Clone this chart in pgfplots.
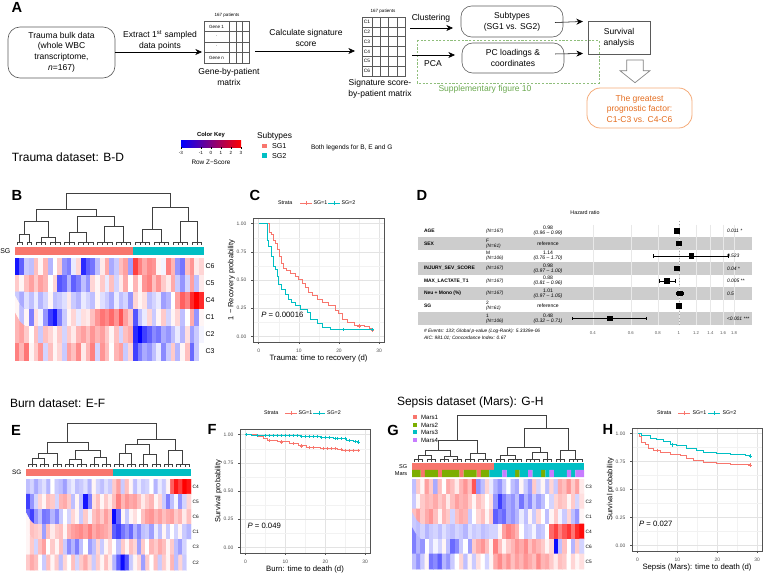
\documentclass[border=0pt]{standalone}
\usepackage{fontspec}
\setmainfont{Liberation Sans}
\usepackage{pgfplots}
\usepackage{pgfplotstable}
\pgfplotsset{compat=1.18}
\usetikzlibrary{arrows.meta}

\definecolor{sgred}{RGB}{248,118,109}
\definecolor{sgcyan}{RGB}{0,191,196}
\definecolor{marsgreen}{RGB}{124,174,0}
\definecolor{marspurple}{RGB}{199,124,255}
\definecolor{suppgreen}{RGB}{106,168,79}
\definecolor{orangetxt}{RGB}{228,108,30}
\definecolor{orangebox}{RGB}{244,170,120}
\definecolor{bandgray}{RGB}{205,205,205}
\definecolor{dgray}{RGB}{90,90,90}

\newcommand{\fs}[2]{\fontsize{#1pt}{#2pt}\selectfont}

% ---------- heatmap values (row by row, 40 columns) ----------
\pgfplotstableread[row sep=\\,header=false]{
-2.2\\-1.5\\-0.5\\-0.6\\0.6\\0.1\\0.7\\-0.7\\0.0\\0.5\\-1.0\\-1.2\\-0.2\\0.4\\-2.0\\-1.5\\-1.3\\-0.6\\0.2\\0.8\\-0.8\\-0.5\\0.6\\0.9\\-0.9\\1.8\\1.2\\0.8\\1.1\\1.0\\0.1\\-0.1\\1.2\\0.7\\-1.0\\-1.3\\0.6\\1.0\\0.2\\0.4\\
0.5\\0.1\\0.6\\0.9\\0.5\\0.9\\0.7\\0.0\\0.4\\-1.6\\-1.4\\-0.7\\-1.5\\-1.2\\-0.6\\-1.0\\0.4\\0.1\\0.5\\-0.2\\0.6\\-0.4\\0.2\\0.8\\0.0\\0.7\\0.1\\1.0\\1.2\\0.6\\1.0\\0.5\\0.2\\0.8\\-0.5\\-1.0\\-0.4\\0.9\\-0.6\\0.2\\
-0.5\\-0.8\\-0.3\\-0.6\\-0.2\\-0.7\\-0.4\\0.1\\-0.6\\-0.5\\-0.3\\0.2\\-0.5\\-0.7\\-0.2\\-0.4\\-0.6\\0.1\\-0.3\\-0.5\\-0.8\\-0.2\\-0.6\\-0.4\\-1.0\\0.4\\0.1\\0.3\\-0.6\\-0.4\\-0.2\\-0.9\\-0.7\\0.0\\0.9\\1.5\\1.2\\2.0\\2.4\\2.0\\
0.1\\-0.6\\0.1\\-1.2\\0.3\\-0.1\\-1.0\\-1.8\\-2.2\\-1.2\\-0.5\\0.1\\0.4\\-0.2\\0.3\\0.2\\0.6\\1.0\\1.3\\1.1\\1.4\\1.0\\1.6\\0.9\\0.5\\-1.6\\-0.6\\-0.2\\0.4\\-0.5\\0.1\\0.5\\-0.4\\0.1\\0.4\\-0.6\\0.0\\0.8\\-1.0\\0.1\\
0.7\\0.9\\0.5\\0.0\\0.6\\-0.5\\0.6\\0.4\\0.1\\0.5\\-0.4\\0.5\\0.2\\0.7\\0.9\\0.6\\1.0\\0.7\\0.9\\0.5\\0.1\\0.6\\-0.4\\0.6\\0.8\\-2.0\\-2.4\\-1.8\\-1.5\\-1.1\\-1.3\\-0.8\\-1.0\\-0.6\\-0.2\\-0.7\\0.3\\-0.9\\-0.5\\-0.1\\
1.2\\0.7\\1.3\\0.1\\0.5\\1.0\\-0.4\\0.6\\0.1\\0.4\\-0.5\\0.9\\0.6\\1.1\\0.2\\0.7\\1.2\\-0.4\\1.0\\0.6\\0.0\\0.7\\0.9\\-0.5\\0.4\\-1.8\\-1.2\\-0.8\\-1.0\\-0.6\\-0.2\\-1.1\\-0.5\\0.5\\-0.7\\0.1\\0.6\\-1.4\\-0.5\\0.0\\
}\heatB

\pgfplotstableread[row sep=\\,header=false]{
-0.6\\-0.4\\-0.8\\-0.5\\-0.3\\-0.7\\0.0\\-0.5\\-0.6\\-0.9\\-0.4\\-0.2\\-0.6\\-0.5\\-0.3\\-0.7\\0.1\\-0.4\\-0.6\\-0.3\\-0.5\\0.5\\0.9\\-0.5\\0.6\\0.1\\-0.6\\-0.2\\-0.5\\-0.4\\0.0\\-0.7\\-0.2\\-0.5\\0.1\\1.5\\2.2\\1.8\\2.5\\2.2\\
-1.8\\-1.0\\-0.4\\0.4\\0.1\\0.6\\0.5\\-0.4\\0.7\\0.8\\0.5\\-0.6\\0.1\\-0.6\\-2.2\\-1.2\\0.3\\0.6\\0.1\\0.5\\0.2\\0.6\\1.2\\0.7\\1.0\\0.8\\0.9\\0.6\\0.2\\0.5\\0.7\\0.1\\0.4\\-0.5\\-1.2\\-0.6\\-0.1\\-1.0\\-0.4\\0.4\\
-1.4\\-1.8\\-1.0\\-0.6\\-1.3\\-1.2\\-0.7\\-1.1\\-0.5\\0.0\\-0.4\\0.4\\0.1\\-0.5\\0.5\\-0.1\\0.6\\0.8\\0.5\\0.9\\0.6\\-2.3\\-1.4\\0.1\\-0.5\\0.1\\0.3\\0.0\\0.6\\0.9\\1.0\\0.7\\0.9\\0.6\\0.8\\0.9\\0.5\\0.7\\0.2\\0.6\\
0.1\\0.6\\0.5\\0.4\\-0.9\\0.6\\0.2\\0.5\\0.6\\0.1\\0.7\\0.9\\1.0\\1.1\\0.9\\1.2\\0.8\\1.0\\0.9\\0.8\\0.6\\-1.5\\-1.8\\-1.3\\-1.0\\-1.4\\-0.7\\-1.1\\-0.6\\-0.5\\-0.9\\-0.2\\-0.6\\0.1\\-0.5\\0.0\\-0.4\\0.1\\-0.5\\-0.7\\
0.1\\0.5\\-0.4\\0.6\\0.9\\0.0\\0.5\\0.1\\0.6\\-0.5\\-1.1\\-0.7\\-1.2\\-0.6\\0.0\\-0.9\\-0.6\\0.4\\-0.5\\0.1\\0.4\\0.0\\-0.6\\0.5\\0.1\\0.6\\0.4\\-0.9\\0.5\\0.0\\0.7\\0.5\\0.8\\0.6\\0.1\\0.5\\-0.6\\-0.9\\-0.4\\0.0\\
0.5\\0.8\\0.6\\0.0\\-0.5\\0.6\\0.1\\0.5\\-0.6\\0.4\\0.0\\0.6\\-0.4\\0.5\\0.8\\0.4\\-0.5\\0.5\\0.1\\0.6\\0.2\\-0.7\\-1.5\\-2.3\\-1.6\\-0.5\\0.1\\0.4\\-0.9\\0.5\\0.0\\0.6\\-0.5\\0.5\\0.1\\0.7\\-0.6\\0.4\\-0.5\\0.0\\
}\heatE

\pgfplotstableread[row sep=\\,header=false]{
-0.6\\0.5\\0.1\\0.9\\0.5\\-0.8\\0.6\\0.0\\0.8\\0.6\\0.2\\0.7\\1.0\\0.6\\1.6\\-1.0\\-0.6\\0.4\\-0.2\\-0.7\\-1.0\\-0.5\\0.0\\-0.6\\-0.8\\0.1\\-0.5\\-0.9\\0.5\\-0.4\\0.1\\-0.6\\0.4\\-0.5\\0.8\\0.6\\1.0\\0.5\\0.9\\0.2\\
-0.5\\0.1\\0.5\\0.7\\0.6\\0.8\\0.5\\0.7\\0.2\\0.6\\0.9\\0.7\\0.8\\0.5\\0.1\\0.6\\0.4\\0.0\\0.3\\-1.0\\-1.8\\-1.2\\-0.8\\-1.0\\-0.6\\-1.3\\-0.7\\-1.1\\-0.5\\-0.9\\-0.6\\0.0\\-0.4\\0.4\\0.6\\0.5\\0.1\\0.5\\-0.4\\0.3\\
0.6\\0.9\\0.5\\0.8\\1.0\\0.6\\0.1\\0.7\\0.5\\-0.4\\0.6\\0.8\\0.7\\-0.5\\0.0\\0.4\\0.6\\0.1\\0.5\\-1.5\\-1.2\\-1.4\\-0.8\\-1.0\\-0.7\\-0.2\\-0.6\\0.1\\-0.5\\0.4\\0.0\\-0.6\\0.1\\0.5\\-0.1\\-0.5\\0.4\\-0.6\\-1.0\\0.1\\
-0.5\\-0.6\\-0.4\\-0.7\\-0.5\\-0.4\\-0.6\\-0.3\\-0.5\\-0.6\\-0.4\\-0.5\\-0.7\\-0.3\\-0.5\\-0.4\\-0.6\\-0.5\\-0.4\\-0.4\\0.1\\0.9\\1.2\\1.0\\0.7\\0.0\\-0.5\\-0.4\\-0.1\\-0.6\\-0.5\\0.0\\1.4\\1.8\\1.2\\1.6\\1.9\\1.3\\2.0\\2.3\\
-1.2\\-0.7\\-1.0\\0.0\\-0.5\\-0.1\\-0.4\\0.1\\-0.6\\-1.4\\-1.1\\-0.5\\0.0\\-0.9\\0.5\\0.8\\1.0\\0.6\\0.1\\1.2\\0.6\\0.1\\0.5\\0.7\\1.0\\0.8\\1.1\\0.6\\0.9\\0.7\\0.5\\0.1\\0.4\\-2.3\\-0.6\\0.6\\0.0\\-0.7\\0.5\\-0.4\\
-0.6\\-1.0\\-0.5\\0.1\\-1.3\\-1.1\\-1.5\\-0.7\\-1.0\\-0.5\\0.0\\0.4\\-0.6\\0.1\\-0.5\\0.3\\0.0\\-0.4\\0.1\\0.8\\1.1\\0.7\\1.0\\0.6\\0.9\\0.7\\1.0\\0.8\\0.6\\1.1\\0.7\\0.8\\0.5\\0.2\\0.6\\0.5\\0.0\\0.4\\0.1\\0.3\\
}\heatG

\pgfplotsset{
  hm/.style={scale only axis, anchor=north west, xmin=-0.5, xmax=39.5, ymin=-0.5, ymax=5.5,
    y dir=reverse, colormap={bluered}{rgb255=(0,0,255) rgb255=(255,255,255) rgb255=(255,0,0)},
    point meta min=-2.4, point meta max=2.4, xtick=\empty, ytick={0,1,2,3,4,5},
    yticklabel pos=right, axis line style={draw=none}, major tick length=0pt,
    yticklabel style={inner sep=1pt}},
  dend/.style={scale only axis, anchor=north west, xmin=-0.5, xmax=39.5, ymin=0, ymax=1,
    hide axis, clip=false, unbounded coords=jump},
  dl/.style={draw=black!75, line width=0.45pt, mark=none},
  ann/.style={scale only axis, anchor=north west, xmin=-0.5, xmax=39.5, ymin=0, ymax=1,
    xtick=\empty, ytick={0.5}, axis line style={draw=none}, major tick length=0pt},
  km/.style={scale only axis, anchor=north west, xmin=-1.4, xmax=31.2, ymin=-0.05, ymax=1.05,
    xtick={0,10,20,30}, minor xtick={5,15,25}, ytick={0,0.25,0.5,0.75,1},
    minor ytick={0.125,0.375,0.625,0.875}, yticklabels={0.00,0.25,0.50,0.75,1.00},
    grid=both, major grid style={gray!22, line width=0.35pt}, minor grid style={gray!10, line width=0.25pt},
    axis line style={gray!65!black, line width=0.35pt},
    tick align=outside, major tick length=1.5pt, minor tick length=0pt,
    tick style={gray!65!black, line width=0.3pt}, xtick pos=left, ytick pos=left,
    tick label style={font=\fs{3.7}{4}, text=gray!60!black},
    /pgf/number format/assume math mode=true,
    xlabel style={font=\fs{5.8}{7}, yshift=5pt}, ylabel style={font=\fs{5.6}{7}, yshift=-5.5pt}},
  kml/.style={line width=0.75pt, mark=none, const plot},
  cens/.style={only marks, mark=+, mark size=1.3pt, line width=0.45pt}
}

\begin{document}
\begin{tikzpicture}[x=0.75pt, y=-0.75pt, t/.style={inner sep=0pt, outer sep=0pt}]
\useasboundingbox (0,0) rectangle (764,573);

% ================= Panel A =================
\node[t, font=\bfseries\fs{11}{12}] at (17,7) {A};
\draw[dgray, line width=0.5pt, rounded corners=9pt] (8,27) rectangle (115,78);
\node[t, align=center, font=\fs{6.4}{8}] at (61.5,52) {Trauma bulk data\\(whole WBC\\transcriptome,\\\textit{n}=167)};
\draw[-{Stealth[length=5pt,width=4.5pt]}, line width=0.4pt] (115,52) -- (202,52);
\node[t, align=center, font=\fs{6.4}{8}] at (160,40) {Extract 1\textsuperscript{st} sampled\\data points};
% gene matrix
\draw[dgray, line width=0.35pt] (204,21) rectangle (249,63);
\foreach \yy in {31.5,42,52.5} \draw[dgray, line width=0.3pt] (204,\yy) -- (249,\yy);
\foreach \xx in {229,236,242.5} \draw[dgray, line width=0.3pt] (\xx,21) -- (\xx,63);
\node[t, font=\fs{3.4}{4}] at (227,15.5) {167 patients};
\node[t, font=\fs{3.4}{4}] at (216.5,27) {Gene 1};
\node[t, font=\fs{3.4}{4}] at (216.5,36) {.};
\node[t, font=\fs{3.4}{4}] at (216.5,46.5) {.};
\node[t, font=\fs{3.4}{4}] at (216.5,58) {Gene n};
\node[t, align=center, font=\fs{6.4}{8}] at (229,77) {Gene-by-patient\\matrix};
\draw[-{Stealth[length=5pt,width=4.5pt]}, line width=0.4pt] (255,51) -- (355,51);
\node[t, align=center, font=\fs{6.4}{8}] at (306,38) {Calculate signature\\score};
% signature matrix
\draw[dgray, line width=0.35pt] (362,17) rectangle (405,76);
\foreach \i in {1,...,5} \draw[dgray, line width=0.3pt] (362,17+9.833*\i) -- (405,17+9.833*\i);
\foreach \xx in {372,380.25,388.5,396.75} \draw[dgray, line width=0.3pt] (\xx,17) -- (\xx,76);
\foreach \i in {1,...,6} \node[t, font=\fs{3.6}{4}] at (367,17+9.833*\i-4.9) {C\i};
\node[t, font=\fs{3.4}{4}] at (383,11) {167 patients};
\node[t, align=center, font=\fs{6.4}{8.2}] at (380,88.5) {Signature score-\\by-patient matrix};
% clustering / PCA
\draw[-{Stealth[length=5pt,width=4.5pt]}, line width=0.4pt] (410,28) -- (453,28);
\node[t, font=\fs{6.4}{8}] at (431,18) {Clustering};
\draw[dgray, line width=0.45pt, rounded corners=8pt] (461,6) rectangle (563,37);
\node[t, align=center, font=\fs{6.4}{8}] at (512,21.5) {Subtypes\\(SG1 vs. SG2)};
\draw[suppgreen!75, dash pattern=on 1.6pt off 1.2pt, line width=0.5pt] (417,40) rectangle (599,83);
\draw[-{Stealth[length=5pt,width=4.5pt]}, line width=0.4pt] (412,55) -- (455,55);
\node[t, font=\fs{6.4}{8}] at (433,63.5) {PCA};
\draw[dgray, line width=0.45pt, rounded corners=8pt] (462,43) rectangle (564,73);
\node[t, align=center, font=\fs{6.4}{8}] at (513,58) {PC loadings \&\\coordinates};
\draw[-{Stealth[length=5pt,width=4.5pt]}, line width=0.4pt] (555,22.5) -- (583,21.5);
\draw[-{Stealth[length=5pt,width=4.5pt]}, line width=0.4pt] (555,54) -- (583,53.5);
\draw[dgray, line width=0.45pt] (588,21) rectangle (650,54);
\node[t, align=center, font=\fs{6.4}{8}] at (619,37.5) {Survival\\analysis};
\node[t, font=\fs{6.4}{8}, text=suppgreen] at (485,89) {Supplementary figure 10};
\draw[gray, line width=0.5pt, fill=white] (626.7,60) -- (643.3,60) -- (643.3,70.7) -- (650,70.7) -- (635,82.7) -- (620,70.7) -- (626.7,70.7) -- cycle;
\draw[orangebox, line width=0.6pt, rounded corners=10pt] (587,88) rectangle (692,128);
\node[t, align=center, font=\fs{6.4}{7.9}, text=orangetxt] at (639.5,108.5) {The greatest\\prognostic factor:\\C1-C3 vs. C4-C6};

% ---- color key and subtype legend ----
\node[t, font=\bfseries\fs{4.4}{5}] at (211,135) {Color Key};
\shade[left color=blue, middle color=white, right color=red] (181,141) rectangle (241,147.5);
\foreach \v/\lab in {-3/-3,-1/-1,0/0,1/1,2/2,3/3} {
  \draw[line width=0.3pt] (211+10*\v,147.5) -- (211+10*\v,149.5);
  \node[t, font=\fs{3.4}{4}] at (211+10*\v,153) {\lab};
}
\node[t, font=\fs{4.8}{5.5}] at (211,162) {Row Z−Score};
\node[t, anchor=west, font=\fs{6.3}{7}] at (257,136) {Subtypes};
\fill[sgred] (262,144) rectangle (266.5,148.5);
\fill[sgcyan] (262,153.5) rectangle (266.5,158);
\node[t, anchor=west, font=\fs{5.4}{6}] at (272,146.5) {SG1};
\node[t, anchor=west, font=\fs{5.4}{6}] at (272,156) {SG2};
\node[t, anchor=west, font=\fs{4.9}{5.5}] at (311,148) {Both legends for B, E and G};

\node[t, anchor=west, font=\fs{9}{10}] at (12,157) {Trauma dataset: B-D};
\node[t, anchor=west, font=\fs{9}{10}] at (10,403) {Burn dataset: E-F};
\node[t, anchor=west, font=\fs{9}{10}] at (397,402) {Sepsis dataset (Mars): G-H};

% panel letters
\node[t, font=\bfseries\fs{11}{12}] at (17,195) {B};
\node[t, font=\bfseries\fs{11}{12}] at (255,195) {C};
\node[t, font=\bfseries\fs{11}{12}] at (422,195) {D};
\node[t, font=\bfseries\fs{11}{12}] at (16,430) {E};
\node[t, font=\bfseries\fs{11}{12}] at (212,429) {F};
\node[t, font=\bfseries\fs{11}{12}] at (393,430) {G};
\node[t, font=\bfseries\fs{11}{12}] at (608,429) {H};

% ================= Panel B =================
\begin{axis}[dend, at={(15*0.75pt,-193*0.75pt)}, width=141.75pt, height=39pt]
\addplot[dl, ycomb] coordinates {(0,0.06) (1,0.06) (2,0.06) (3,0.06) (4,0.06) (5,0.06) (6,0.06) (7,0.06) (8,0.06) (9,0.06) (10,0.06) (11,0.06) (12,0.06) (13,0.06) (14,0.06) (15,0.06) (16,0.06) (17,0.06) (18,0.06) (19,0.06) (20,0.06) (21,0.06) (22,0.06) (23,0.06) (24,0.06) (25,0.06) (26,0.06) (27,0.06) (28,0.06) (29,0.06) (30,0.06) (31,0.06) (32,0.06) (33,0.06) (34,0.06) (35,0.06) (36,0.06) (37,0.06) (38,0.06) (39,0.06)};
\addplot[dl] coordinates {
(0,0.06) (1,0.06) (0,nan) (2,0.06) (3,0.06) (0,nan) (4,0.06) (6,0.06) (0,nan) (7,0.06) (9,0.06) (0,nan)
(10,0.06) (12,0.06) (0,nan) (13,0.06) (16,0.06) (0,nan) (17,0.06) (20,0.06) (0,nan) (21,0.06) (24,0.06) (0,nan)
(25,0.06) (28,0.06) (0,nan) (29,0.06) (32,0.06) (0,nan) (33,0.06) (36,0.06) (0,nan) (37,0.06) (39,0.06) (0,nan)
(0.5,0.06) (0.5,0.2) (2.5,0.2) (2.5,0.06) (0,nan)
(5,0.06) (5,0.15) (8,0.15) (8,0.06) (0,nan)
(1.5,0.2) (1.5,0.45) (6.5,0.45) (6.5,0.15) (0,nan)
(11,0.06) (11,0.25) (14.5,0.25) (14.5,0.06) (0,nan)
(18.5,0.06) (18.5,0.35) (22.5,0.35) (22.5,0.06) (0,nan)
(12.75,0.25) (12.75,0.55) (20.5,0.55) (20.5,0.35) (0,nan)
(4,0.45) (4,0.68) (16.625,0.68) (16.625,0.55) (0,nan)
(26.5,0.06) (26.5,0.3) (30.5,0.3) (30.5,0.06) (0,nan)
(34.5,0.06) (34.5,0.45) (38,0.45) (38,0.06) (0,nan)
(28.5,0.3) (28.5,0.72) (36.25,0.72) (36.25,0.45) (0,nan)
(10.3125,0.68) (10.3125,1) (32.375,1) (32.375,0.72)};
\end{axis}
\begin{axis}[ann, at={(15*0.75pt,-247*0.75pt)}, width=141.75pt, height=6pt, yticklabels={SG}, yticklabel style={font=\fs{5.2}{6}}]
\addplot[fill=sgred, draw=none] coordinates {(-0.5,1) (24.5,1)} \closedcycle;
\addplot[fill=sgcyan, draw=none] coordinates {(24.5,1) (39.5,1)} \closedcycle;
\end{axis}
\begin{axis}[hm, at={(15*0.75pt,-258*0.75pt)}, width=141.75pt, height=76.5pt, yticklabels={C6,C5,C4,C1,C2,C3}, yticklabel style={font=\fs{5.2}{6}}]
\addplot[matrix plot*, mesh/cols=40, mesh/rows=6, point meta=explicit]
  table[x index=0, y index=0, meta index=0, x expr={mod(\coordindex,40)}, y expr={floor(\coordindex/40)}] {\heatB};
\end{axis}

% ================= Panel C =================
\node[t, anchor=west, font=\fs{4}{4.5}] at (278,203) {Strata};
\draw[sgred, line width=0.7pt] (300,203) -- (312,203); \draw[sgred, line width=0.5pt] (306,201) -- (306,205);
\node[t, anchor=west, font=\fs{4}{4.5}] at (313.5,203) {SG=1};
\draw[sgcyan, line width=0.7pt] (328,203) -- (340,203); \draw[sgcyan, line width=0.5pt] (334,201) -- (334,205);
\node[t, anchor=west, font=\fs{4}{4.5}] at (341.5,203) {SG=2};
\begin{axis}[km, at={(253*0.75pt,-218*0.75pt)}, width=98.25pt, height=93pt,
  xlabel={Trauma: time to recovery (d)}, ylabel={1 − Recovery probability}]
\addplot[kml, sgred] coordinates {(0,1) (2.7,0.92) (3.2,0.90) (3.6,0.85) (4.2,0.82) (4.75,0.77) (5.25,0.71) (5.8,0.65) (6.25,0.60) (6.9,0.58) (7.9,0.56) (9.2,0.53) (10,0.50) (10.8,0.47) (11.7,0.43) (12.5,0.39) (13.3,0.36) (14.6,0.33) (15.8,0.30) (17.5,0.27) (19.2,0.23) (20,0.20) (20.8,0.15) (22.1,0.12) (23.75,0.10) (26.25,0.09) (27.5,0.07) (28.1,0.05) (28.3,0.05)};
\addplot[kml, sgcyan] coordinates {(0,1) (2.1,0.85) (2.5,0.80) (3.1,0.77) (3.3,0.71) (3.75,0.62) (4.2,0.59) (4.6,0.53) (5,0.46) (5.8,0.42) (6.7,0.37) (7.5,0.33) (8.3,0.30) (9.2,0.27) (10.4,0.24) (12.1,0.21) (12.9,0.15) (14.6,0.11) (15.8,0.08) (17.9,0.06) (28.3,0.06)};
\addplot[cens, sgred] coordinates {(25,0.09) (28.3,0.05)};
\addplot[cens, sgcyan] coordinates {(21,0.06) (28.3,0.06)};
\node[t, anchor=west, font=\fs{5.8}{7}] at (axis cs:0.7,0.19) {\textit{P} = 0.00016};
\end{axis}

% ================= Panel D (forest plot) =================
\foreach \r in {1,3,5,7} \fill[bandgray] (418,231+12.5*\r-6.25) rectangle (752,231+12.5*\r+6.25);
\node[t, font=\fs{4}{4.5}] at (585,213) {Hazard ratio};
\begin{axis}[scale only axis, anchor=north west, at={(571*0.75pt,-224.75*0.75pt)}, width=135.75pt, height=75pt,
  x coord trafo/.code={\pgfmathparse{ln(#1)}}, x coord inv trafo/.code={\pgfmathparse{exp(#1)}},
  xmin=0.317, xmax=2.18, ymin=-0.5, ymax=7.5, y dir=reverse, clip=false,
  xtick={0.4,0.6,0.8,1,1.2,1.4,1.6,1.8}, xticklabels={0.4,0.6,0.8,1,1.2,1.4,1.6,1.8},
  ytick=\empty, axis line style={draw=none}, major tick length=0pt,
  xmajorgrids, major grid style={gray!18, line width=0.3pt},
  xticklabel style={font=\fs{3.2}{4}, text=gray!70!black, yshift=-1.5pt}]
\addplot[gray!70, dotted, line width=0.5pt, mark=none] coordinates {(1,-0.8) (1,7.6)};
\addplot[black, line width=0.35pt, mark=|, mark size=1.3pt] coordinates {(0.76,2) (1.70,2)};
\addplot[black, line width=0.35pt, mark=|, mark size=1.3pt] coordinates {(0.81,4) (0.96,4)};
\addplot[black, line width=0.35pt, mark=|, mark size=1.3pt] coordinates {(0.97,5) (1.05,5)};
\addplot[black, line width=0.35pt, mark=|, mark size=1.3pt] coordinates {(0.32,7) (0.71,7)};
\addplot[black, line width=0.35pt, mark=none] coordinates {(0.96,0) (0.99,0)};
\addplot[black, line width=0.35pt, mark=none] coordinates {(0.97,3) (1.00,3)};
\addplot[only marks, mark=square*, mark size=1.7pt, black] coordinates {(0.98,0) (1,1) (1.14,2) (0.98,3) (0.88,4) (1.01,5) (1,6) (0.48,7)};
\end{axis}
\foreach \r/\nm in {0/AGE,1/SEX,3/INJURY\_SEV\_SCORE,4/MAX\_LACTATE\_T1,5/Neu + Mono (\%),6/SG}
  \node[t, anchor=west, font=\bfseries\fs{3.7}{4.2}] at (424,231+12.5*\r) {\nm};
\foreach \r/\nn in {0/(N=167),3/(N=167),4/(N=167),5/(N=167)}
  \node[t, anchor=west, font=\itshape\fs{3.6}{4.2}] at (486,231+12.5*\r) {\nn};
\foreach \r/\a/\b in {1/F/(N=61),2/M/(N=106),6/2/(N=61),7/1/(N=106)}
  \node[t, anchor=west, align=left, font=\fs{3.6}{3.9}] at (486,231+12.5*\r) {\a\\\textit{\b}};
\foreach \r/\a/\b in {0/0.98/(0.96 – 0.99),2/1.14/(0.76 – 1.70),3/0.98/(0.97 – 1.00),4/0.88/(0.81 – 0.96),5/1.01/(0.97 – 1.05),7/0.48/(0.32 – 0.71)}
  \node[t, align=center, font=\fs{3.8}{3.9}] at (548,231+12.5*\r) {\a\\\textit{\b}};
\foreach \r in {1,6} \node[t, font=\fs{3.8}{4.2}] at (548,231+12.5*\r) {reference};
\foreach \r/\p in {0/0.011 *,2/0.523,3/0.04 *,4/0.005 **,5/0.5,7/<0.001 ***}
  \node[t, anchor=west, font=\itshape\fs{3.7}{4.2}] at (727,231+12.5*\r) {\p};
\node[t, anchor=west, font=\itshape\fs{3.6}{4.2}] at (424,331) {\# Events: 133; Global p-value (Log-Rank): 5.3339e-06};
\node[t, anchor=west, font=\itshape\fs{3.6}{4.2}] at (424,338.5) {AIC: 981.01; Concordance Index: 0.67};

% ================= Panel E =================
\begin{axis}[dend, at={(26*0.75pt,-423*0.75pt)}, width=123.75pt, height=33pt]
\addplot[dl, ycomb] coordinates {(0,0.06) (1,0.06) (2,0.06) (3,0.06) (4,0.06) (5,0.06) (6,0.06) (7,0.06) (8,0.06) (9,0.06) (10,0.06) (11,0.06) (12,0.06) (13,0.06) (14,0.06) (15,0.06) (16,0.06) (17,0.06) (18,0.06) (19,0.06) (20,0.06) (21,0.06) (22,0.06) (23,0.06) (24,0.06) (25,0.06) (26,0.06) (27,0.06) (28,0.06) (29,0.06) (30,0.06) (31,0.06) (32,0.06) (33,0.06) (34,0.06) (35,0.06) (36,0.06) (37,0.06) (38,0.06) (39,0.06)};
\addplot[dl] coordinates {
(0,0.06) (2,0.06) (0,nan) (3,0.06) (5,0.06) (0,nan) (6,0.06) (8,0.06) (0,nan) (9,0.06) (11,0.06) (0,nan)
(12,0.06) (14,0.06) (0,nan) (15,0.06) (17,0.06) (0,nan) (18,0.06) (20,0.06) (0,nan) (21,0.06) (23,0.06) (0,nan)
(24,0.06) (26,0.06) (0,nan) (27,0.06) (29,0.06) (0,nan) (30,0.06) (32,0.06) (0,nan) (33,0.06) (35,0.06) (0,nan) (36,0.06) (39,0.06) (0,nan)
(1,0.06) (1,0.2) (4,0.2) (4,0.06) (0,nan)
(2.5,0.2) (2.5,0.3) (7,0.3) (7,0.06) (0,nan)
(10,0.06) (10,0.18) (13,0.18) (13,0.06) (0,nan)
(16,0.06) (16,0.22) (19,0.22) (19,0.06) (0,nan)
(11.5,0.18) (11.5,0.38) (17.5,0.38) (17.5,0.22) (0,nan)
(4.75,0.3) (4.75,0.55) (14.5,0.55) (14.5,0.38) (0,nan)
(22,0.06) (22,0.3) (25,0.3) (25,0.06) (0,nan)
(28,0.06) (28,0.28) (31,0.28) (31,0.06) (0,nan)
(23.5,0.3) (23.5,0.52) (29.5,0.52) (29.5,0.28) (0,nan)
(34,0.06) (34,0.38) (37.5,0.38) (37.5,0.06) (0,nan)
(26.5,0.52) (26.5,0.63) (35.75,0.63) (35.75,0.38) (0,nan)
(9.625,0.55) (9.625,1) (31.125,1) (31.125,0.63)};
\end{axis}
\begin{axis}[ann, at={(26*0.75pt,-469*0.75pt)}, width=123.75pt, height=5.25pt, yticklabels={SG}, yticklabel style={font=\fs{4.8}{5.5}}]
\addplot[fill=sgred, draw=none] coordinates {(-0.5,1) (20.5,1)} \closedcycle;
\addplot[fill=sgcyan, draw=none] coordinates {(20.5,1) (39.5,1)} \closedcycle;
\end{axis}
\begin{axis}[hm, at={(26*0.75pt,-479*0.75pt)}, width=123.75pt, height=68.25pt, yticklabels={C4,C5,C6,C1,C3,C2}, yticklabel style={font=\fs{3.6}{4}}]
\addplot[matrix plot*, mesh/cols=40, mesh/rows=6, point meta=explicit]
  table[x index=0, y index=0, meta index=0, x expr={mod(\coordindex,40)}, y expr={floor(\coordindex/40)}] {\heatE};
\end{axis}

% ================= Panel F =================
\node[t, anchor=west, font=\fs{4}{4.5}] at (264,413) {Strata};
\draw[sgred, line width=0.7pt] (285,413) -- (297,413); \draw[sgred, line width=0.5pt] (291,411) -- (291,415);
\node[t, anchor=west, font=\fs{4}{4.5}] at (298.5,413) {SG=1};
\draw[sgcyan, line width=0.7pt] (313,413) -- (325,413); \draw[sgcyan, line width=0.5pt] (319,411) -- (319,415);
\node[t, anchor=west, font=\fs{4}{4.5}] at (327,413) {SG=2};
\begin{axis}[km, at={(240*0.75pt,-429*0.75pt)}, width=97.5pt, height=93pt,
  xlabel={Burn: time to death (d)}, ylabel={Survival probability}]
\addplot[kml, sgred] coordinates {(0,1) (3,0.985) (4.6,0.965) (5.4,0.95) (8,0.935) (11,0.92) (13.3,0.90) (15.4,0.885) (18.75,0.875) (23,0.868) (24.2,0.858) (28.3,0.858)};
\addplot[kml, sgcyan] coordinates {(0,1) (1.5,0.99) (13.7,0.985) (18.7,0.975) (22,0.965) (25.4,0.95) (27,0.937) (28.3,0.935)};
\addplot[cens, sgred] coordinates {(6,0.95) (9,0.935) (12,0.92) (14,0.90) (16,0.885) (17,0.885) (19.5,0.875) (20.5,0.875) (21.5,0.875) (22.5,0.875) (24,0.868) (25,0.858) (26,0.858) (27,0.858) (28.3,0.858)};
\addplot[cens, sgcyan] coordinates {(0.3,1) (3,0.99) (5,0.99) (6,0.99) (7,0.99) (8,0.99) (9,0.99) (10,0.99) (11,0.99) (12,0.99) (13,0.99) (14,0.985) (15,0.985) (16,0.985) (17,0.985) (18,0.985) (19,0.975) (20,0.975) (21,0.975) (22.5,0.965) (23,0.965) (24,0.965) (25,0.965) (26,0.95) (27.5,0.937) (28.3,0.935)};
\node[t, anchor=west, font=\fs{5.8}{7}] at (axis cs:0.5,0.19) {\textit{P} = 0.049};
\end{axis}

% ================= Panel G =================
\fill[sgred] (413,415.5) rectangle (417,419.5);
\fill[marsgreen] (413,423) rectangle (417,427);
\fill[sgcyan] (413,430.5) rectangle (417,434.5);
\fill[marspurple] (413,438) rectangle (417,442);
\node[t, anchor=west, font=\fs{4.6}{5}] at (421,417.5) {Mars1};
\node[t, anchor=west, font=\fs{4.6}{5}] at (421,425) {Mars2};
\node[t, anchor=west, font=\fs{4.6}{5}] at (421,432.5) {Mars3};
\node[t, anchor=west, font=\fs{4.6}{5}] at (421,440) {Mars4};
\begin{axis}[dend, at={(412*0.75pt,-415*0.75pt)}, width=129pt, height=35.25pt]
\addplot[dl, ycomb] coordinates {(0,0.06) (1,0.06) (2,0.06) (3,0.06) (4,0.06) (5,0.06) (6,0.06) (7,0.06) (8,0.06) (9,0.06) (10,0.06) (11,0.06) (12,0.06) (13,0.06) (14,0.06) (15,0.06) (16,0.06) (17,0.06) (18,0.06) (19,0.06) (20,0.06) (21,0.06) (22,0.06) (23,0.06) (24,0.06) (25,0.06) (26,0.06) (27,0.06) (28,0.06) (29,0.06) (30,0.06) (31,0.06) (32,0.06) (33,0.06) (34,0.06) (35,0.06) (36,0.06) (37,0.06) (38,0.06) (39,0.06)};
\addplot[dl] coordinates {
(0,0.06) (2,0.06) (0,nan) (3,0.06) (5,0.06) (0,nan) (6,0.06) (8,0.06) (0,nan) (9,0.06) (11,0.06) (0,nan)
(12,0.06) (14,0.06) (0,nan) (15,0.06) (18,0.06) (0,nan) (19,0.06) (21,0.06) (0,nan) (22,0.06) (25,0.06) (0,nan)
(26,0.06) (29,0.06) (0,nan) (30,0.06) (32,0.06) (0,nan) (33,0.06) (35,0.06) (0,nan) (36,0.06) (39,0.06) (0,nan)
(1,0.06) (1,0.15) (4,0.15) (4,0.06) (0,nan)
(7,0.06) (7,0.12) (10,0.12) (10,0.06) (0,nan)
(2.5,0.15) (2.5,0.25) (8.5,0.25) (8.5,0.12) (0,nan)
(13,0.06) (13,0.18) (16.5,0.18) (16.5,0.06) (0,nan)
(5.5,0.25) (5.5,0.46) (14.75,0.46) (14.75,0.18) (0,nan)
(20,0.06) (20,0.15) (23.5,0.15) (23.5,0.06) (0,nan)
(27.5,0.06) (27.5,0.2) (31,0.2) (31,0.06) (0,nan)
(21.75,0.15) (21.75,0.32) (29.25,0.32) (29.25,0.2) (0,nan)
(34,0.06) (34,0.25) (37.5,0.25) (37.5,0.06) (0,nan)
(25.5,0.32) (25.5,0.71) (35.75,0.71) (35.75,0.25) (0,nan)
(10.125,0.46) (10.125,1) (30.625,1) (30.625,0.71)};
\end{axis}
\begin{axis}[ann, at={(412*0.75pt,-463*0.75pt)}, width=129pt, height=5.25pt, yticklabels={SG}, yticklabel style={font=\fs{4.2}{5}}]
\addplot[fill=sgred, draw=none] coordinates {(-0.5,1) (18.5,1)} \closedcycle;
\addplot[fill=sgcyan, draw=none] coordinates {(18.5,1) (39.5,1)} \closedcycle;
\end{axis}
\begin{axis}[ann, at={(412*0.75pt,-470*0.75pt)}, width=129pt, height=5.25pt, yticklabels={Mars}, yticklabel style={font=\fs{4.2}{5}}]
\addplot[ybar, bar width=1, bar shift=0pt, fill=sgred, draw=none] coordinates {(2,1) (6,1) (11,1) (15,1)};
\addplot[ybar, bar width=1, bar shift=0pt, fill=marsgreen, draw=none] coordinates {(0,1) (1,1) (3,1) (4,1) (5,1) (7,1) (8,1) (9,1) (10,1) (12,1) (13,1) (14,1) (16,1) (17,1) (24,1) (30,1)};
\addplot[ybar, bar width=1, bar shift=0pt, fill=sgcyan, draw=none] coordinates {(18,1) (19,1) (20,1) (22,1) (23,1) (25,1) (26,1) (28,1) (29,1) (31,1) (33,1) (34,1) (35,1) (37,1)};
\addplot[ybar, bar width=1, bar shift=0pt, fill=marspurple, draw=none] coordinates {(21,1) (27,1) (32,1) (36,1) (38,1) (39,1)};
\end{axis}
\begin{axis}[hm, at={(412*0.75pt,-479*0.75pt)}, width=129pt, height=67.5pt, yticklabels={C3,C2,C1,C4,C6,C5}, yticklabel style={font=\fs{3.6}{4}}]
\addplot[matrix plot*, mesh/cols=40, mesh/rows=6, point meta=explicit]
  table[x index=0, y index=0, meta index=0, x expr={mod(\coordindex,40)}, y expr={floor(\coordindex/40)}] {\heatG};
\end{axis}

% ================= Panel H =================
\node[t, anchor=west, font=\fs{4}{4.5}] at (657,413) {Strata};
\draw[sgred, line width=0.7pt] (678,413) -- (690,413); \draw[sgred, line width=0.5pt] (684,411) -- (684,415);
\node[t, anchor=west, font=\fs{4}{4.5}] at (692.5,413) {SG=1};
\draw[sgcyan, line width=0.7pt] (708,413) -- (720,413); \draw[sgcyan, line width=0.5pt] (714,411) -- (714,415);
\node[t, anchor=west, font=\fs{4}{4.5}] at (722.5,413) {SG=2};
\begin{axis}[km, at={(632*0.75pt,-428*0.75pt)}, width=97.5pt, height=92.25pt,
  xlabel={Sepsis (Mars): time to death (d)}, ylabel={Survival probability}]
\addplot[kml, sgred] coordinates {(0,1) (0.5,0.976) (1.1,0.92) (1.9,0.90) (2.75,0.87) (4,0.85) (5.7,0.835) (8.2,0.815) (10.7,0.80) (12.3,0.78) (14,0.76) (16.5,0.745) (19.8,0.735) (23.2,0.725) (25,0.72) (28.2,0.72)};
\addplot[kml, sgcyan] coordinates {(0,1) (1.1,0.98) (3.2,0.96) (4.8,0.95) (6.5,0.93) (8.2,0.90) (9.8,0.89) (12.3,0.87) (14.8,0.85) (16.5,0.83) (19.8,0.825) (23.2,0.815) (25.7,0.81) (27,0.80) (28.3,0.80)};
\addplot[cens, sgred] coordinates {(5,0.85) (28.2,0.72)};
\addplot[cens, sgcyan] coordinates {(8.6,0.90) (28.3,0.80)};
\node[t, anchor=west, font=\fs{5.8}{7}] at (axis cs:0.4,0.19) {\textit{P} = 0.027};
\end{axis}

\end{tikzpicture}
\end{document}
